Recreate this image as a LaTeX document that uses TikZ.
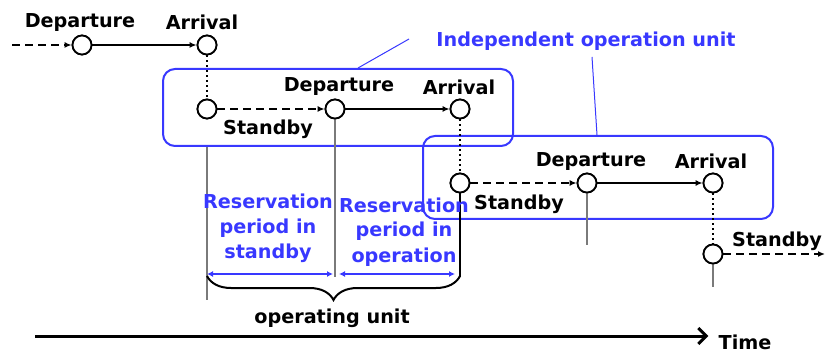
\documentclass[tikz,border=0pt]{standalone}
\usepackage{fontspec}
\setmainfont{DejaVu Sans}
\definecolor{unitblue}{HTML}{3838FF}
\definecolor{tickgray}{HTML}{7A7A7A}
\usetikzlibrary{
    arrows.meta,
    decorations.pathreplacing,
    positioning,
}
\tikzset{>={Latex[length=7pt,width=6pt]}}
\tikzset{
    event/.style={draw,circle,line width=1.8pt,minimum size=19pt,inner sep=0pt,fill=white},
    lbl/.style={font=\bfseries\fontsize{19.2}{22}\selectfont,inner sep=0pt,anchor=base},
    bluelbl/.style={lbl,text=unitblue,align=center,font=\bfseries\fontsize{19.2}{25}\selectfont},
    unitbox/.style={draw=unitblue,line width=2pt,rounded corners=12pt,inner sep=0pt},
    run/.style={->,line width=1.8pt},
    wait/.style={->,line width=1.8pt,dash pattern=on 8pt off 5pt},
    link/.style={line width=1.8pt,dash pattern=on 2pt off 3pt},
    tick/.style={draw=tickgray,line width=1.2pt},
}

\begin{document}
\begin{tikzpicture}[x=1pt,y=-1pt]
            \useasboundingbox (0,0) rectangle (826,352);
            % independent operation units
            \node[unitbox,minimum width=350pt,minimum height=77pt] (unit1) at (338,107.5) {};
            \node[unitbox,minimum width=350pt,minimum height=83pt] (unit2) at (598,177.5) {};
            \node[lbl,text=unitblue] (indep) at (586,47) {Independent operation unit};
            \coordinate (call1) at (409,39);
            \coordinate (call2) at (592,57);
            \draw[unitblue,line width=1pt] (call1) -- (unit1.north -| 358,0);
            \draw[unitblue,line width=1pt] (call2) -- (unit2.north -| 597,0);
            % events
            \coordinate (start) at (12,45);
            \node[event] (dep1) at (82,45) {};
            \node[event] (arr1) at (207,45) {};
            \node[event] (sb1) at (207,109) {};
            \node[event] (dep2) at (335,109) {};
            \node[event] (arr2) at (460,109) {};
            \node[event] (sb2) at (460,183) {};
            \node[event] (dep3) at (587,183) {};
            \node[event] (arr3) at (713,183) {};
            \node[event] (sb3) at (713,254) {};
            \coordinate (end) at (825,254);
            % time marks
            \coordinate (sb1end) at (207,300);
            \coordinate (dep2end) at (335,277);
            \coordinate (sb2end) at (460,277);
            \coordinate (dep3end) at (587,245);
            \coordinate (sb3end) at (713,287);
            \draw[tick] (sb1 |- unit1.south) -- (sb1end);
            \draw[tick] (dep2) -- (dep2end);
            \draw[line width=1.2pt] (sb2) -- (sb2end);
            \draw[tick] (dep3) -- (dep3end);
            \draw[tick] (sb3) -- (sb3end);
            % connectors
            \draw[wait] (start) -- (dep1);
            \draw[run] (dep1) -- (arr1);
            \draw[link] (arr1) -- (sb1);
            \draw[wait] (sb1) -- (dep2);
            \draw[run] (dep2) -- (arr2);
            \draw[link] (arr2) -- (sb2);
            \draw[wait] (sb2) -- (dep3);
            \draw[run] (dep3) -- (arr3);
            \draw[link] (arr3) -- (sb3);
            \draw[wait] (sb3) -- (end);
            % redraw circles above lines
            \foreach \ev in {dep1,arr1,sb1,dep2,arr2,sb2,dep3,arr3,sb3}
                \node[event] at (\ev) {};
            % labels
            \node[lbl] (tdep1) at (80,28) {Departure};
            \node[lbl] (tarr1) at (202,30) {Arrival};
            \node[lbl] (tdep2) at (339,92) {Departure};
            \node[lbl] (tsb1) at (268,135) {Standby};
            \node[lbl] (tarr2) at (459,95) {Arrival};
            \node[lbl] (tdep3) at (591,167) {Departure};
            \node[lbl] (tarr3) at (711,169) {Arrival};
            \node[lbl] (tsb2) at (519,210) {Standby};
            \node[lbl] (tsb3) at (777,247) {Standby};
            % reservation periods
            \node[bluelbl] (resstand) at (268,259) {Reservation\\period in\\standby};
            \node[bluelbl] (resop) at (404,262) {Reservation\\period in\\operation};
            \coordinate (per1a) at (207,274);
            \coordinate (per1b) at (333,274);
            \coordinate (per2a) at (339,274);
            \coordinate (per2b) at (455,274);
            \draw[<->,unitblue,line width=1.5pt,>={Latex[length=6pt,width=6pt]}] (per1a) -- (per1b);
            \draw[<->,unitblue,line width=1.5pt,>={Latex[length=6pt,width=6pt]}] (per2a) -- (per2b);
            \draw[decorate,decoration={brace,mirror,amplitude=24pt},line width=2pt] (207,276) -- (460,276);
            \node[lbl] (opunit) at (332,323) {operating unit};
            % time axis
            \coordinate (t0) at (35,336);
            \node[lbl] (ttime) at (745,349) {Time};
            \draw[line width=3pt,-{Straight Barb[length=8pt,width=16pt]}] (t0) -- ([xshift=-10pt]t0 -| ttime.west);
        \end{tikzpicture}
\end{document}
